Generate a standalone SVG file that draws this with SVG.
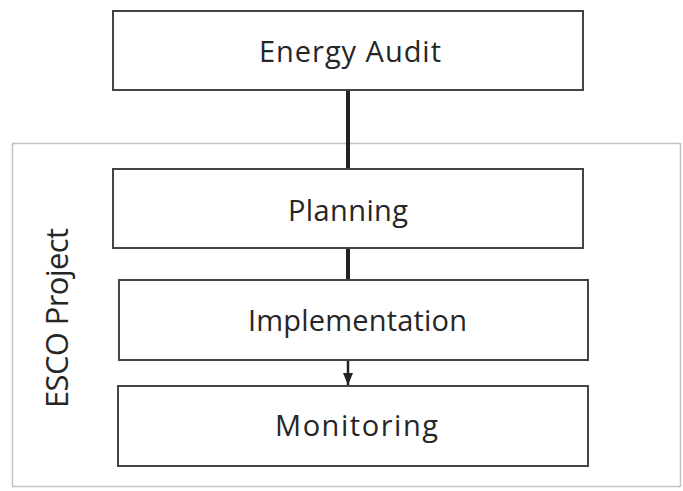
<svg xmlns="http://www.w3.org/2000/svg" width="683" height="491" viewBox="0 0 683 491">
<style>
.box{fill:#fff;stroke:#444;stroke-width:2}
.lbl{font-family:"Open Sans","Liberation Sans",sans-serif;font-size:29px;fill:#262626;text-anchor:middle}
.cont{fill:none;stroke:#888;stroke-width:1.5;stroke-dasharray:1 1}
.conn{stroke:#222;stroke-width:4;fill:none}
</style>
<defs>
<marker id="ah" markerWidth="12" markerHeight="12" refX="12" refY="6" orient="auto" markerUnits="userSpaceOnUse">
<path d="M0,1 L12,6 L0,11 z" fill="#222"/>
</marker>
</defs>
<rect width="683" height="491" fill="#fff"/>
<g id="esco-project">
<rect class="cont" x="12.5" y="143.5" width="668" height="343"/>
<text class="lbl" transform="translate(68,318) rotate(-90)" style="font-size:31px" textLength="180" lengthAdjust="spacing">ESCO Project</text>
</g>
<g id="connectors">
<line class="conn" x1="348" y1="90" x2="348" y2="170"/>
<line class="conn" x1="348" y1="248" x2="348" y2="280"/>
<line x1="348" y1="360" x2="348" y2="385" stroke="#222" stroke-width="2.5" marker-end="url(#ah)"/>
</g>
<g id="energy-audit">
<rect class="box" x="113" y="11" width="470" height="79"/>
<text class="lbl" x="350" y="62" textLength="182" lengthAdjust="spacing">Energy Audit</text>
</g>
<g id="planning">
<rect class="box" x="113" y="169" width="470" height="79"/>
<text class="lbl" x="348" y="221" textLength="120" lengthAdjust="spacing">Planning</text>
</g>
<g id="implementation">
<rect class="box" x="119" y="280" width="469" height="80"/>
<text class="lbl" x="357.5" y="331" textLength="219" lengthAdjust="spacing">Implementation</text>
</g>
<g id="monitoring">
<rect class="box" x="118" y="386" width="470" height="80"/>
<text class="lbl" x="356.5" y="436" textLength="163" lengthAdjust="spacing">Monitoring</text>
</g>
</svg>
